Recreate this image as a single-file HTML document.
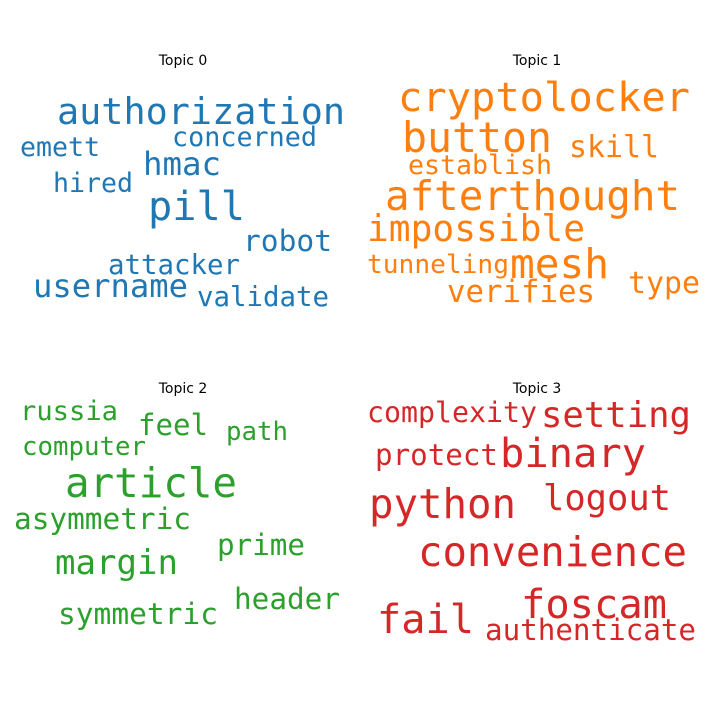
<!DOCTYPE html>
<html><head><meta charset="utf-8"><style>
html,body{margin:0;padding:0;background:#fff;}
svg text{font-family:"DejaVu Sans Mono","Liberation Mono",monospace;}
svg text.title{font-family:"DejaVu Sans","Liberation Sans",sans-serif;}
</style></head><body>
<svg id="chart" width="720" height="720" viewBox="0 0 720 720">
<rect width="720" height="720" fill="#fff"/>
</svg>
<script>
const topicTitles = ["Topic 0","Topic 1","Topic 2","Topic 3"];
const topicColors = ["#1f77b4","#ff7f0e","#2ca02c","#d62728"];
const topic0Words = ["authorization","concerned","emett","hmac","hired","pill","robot","attacker","username","validate"];
const topic1Words = ["cryptolocker","button","skill","establish","afterthought","impossible","tunneling","mesh","type","verifies"];
const topic2Words = ["russia","feel","path","computer","article","asymmetric","prime","margin","header","symmetric"];
const topic3Words = ["complexity","setting","protect","binary","python","logout","convenience","foscam","fail","authenticate"];
const topic0Weights = [36.8,26.8,26.6,32.4,26.6,40.3,29.6,27.4,32.2,27.4];
const topic1Weights = [40.4,41.5,29.9,26.6,40.8,36.2,26.2,41.1,29.9,30.7];
const topic2Weights = [27.1,29,25.7,25.7,40.8,29.4,29.2,34,29.3,29.5];
const topic3Weights = [28.2,35.6,29.2,40.4,40.7,35.4,40.6,40.4,40.3,29.2];

// layout (word-cloud placement): [x, baseline, width]
const layout = [
 [[57,124,288],[172,146,145],[20,156,80],[143,175,78],[53,192,80],[148,220,97],[243,251,89],[108,274,132],[33,297,155],[197,306,132]],
 [[398,111,292],[402,152,150],[569,157,90],[408,174,144],[385,210,295],[367,241,218],[367,273,142],[510,278,99],[628,293,72],[447,302,148]],
 [[20,420,98],[138,435,70],[226,440,62],[22,455,124],[65,497,172],[14,529,177],[217,555,88],[55,574,123],[234,609,106],[58,624,160]],
 [[367,422,170],[541,427,150],[375,465,123],[500,467,146],[369,518,147],[543,510,128],[418,566,269],[521,618,146],[377,633,97],[485,640,211]]
];
const titlePos = [[183,65],[537,65],[183,393],[537,393]];
const words = [topic0Words,topic1Words,topic2Words,topic3Words];
const weights = [topic0Weights,topic1Weights,topic2Weights,topic3Weights];
const svg = document.getElementById('chart');
const NS = "http://www.w3.org/2000/svg";
for (let t = 0; t < 4; t++) {
  const g = document.createElementNS(NS,'g');
  
  
  const title = document.createElementNS(NS,'text');
  title.setAttribute('class','title');
  title.setAttribute('x', titlePos[t][0]);
  title.setAttribute('y', titlePos[t][1]);
  title.setAttribute('text-anchor','middle');
  title.setAttribute('font-size','14');
  title.setAttribute('fill','#000');
  title.textContent = topicTitles[t];
  
  
  g.appendChild(title);
  for (let i = 0; i < words[t].length; i++) {
    const L = layout[t][i];
    const el = document.createElementNS(NS,'text');
    el.setAttribute('x', L[0]);
    el.setAttribute('y', L[1]);
    el.setAttribute('font-size', weights[t][i]);
    el.setAttribute('fill', topicColors[t]);
    el.setAttribute('textLength', L[2]);
    el.setAttribute('lengthAdjust', 'spacingAndGlyphs');
    el.textContent = words[t][i];
    
    
    g.appendChild(el);
  }
  svg.appendChild(g);
}
</script>
</body></html>
